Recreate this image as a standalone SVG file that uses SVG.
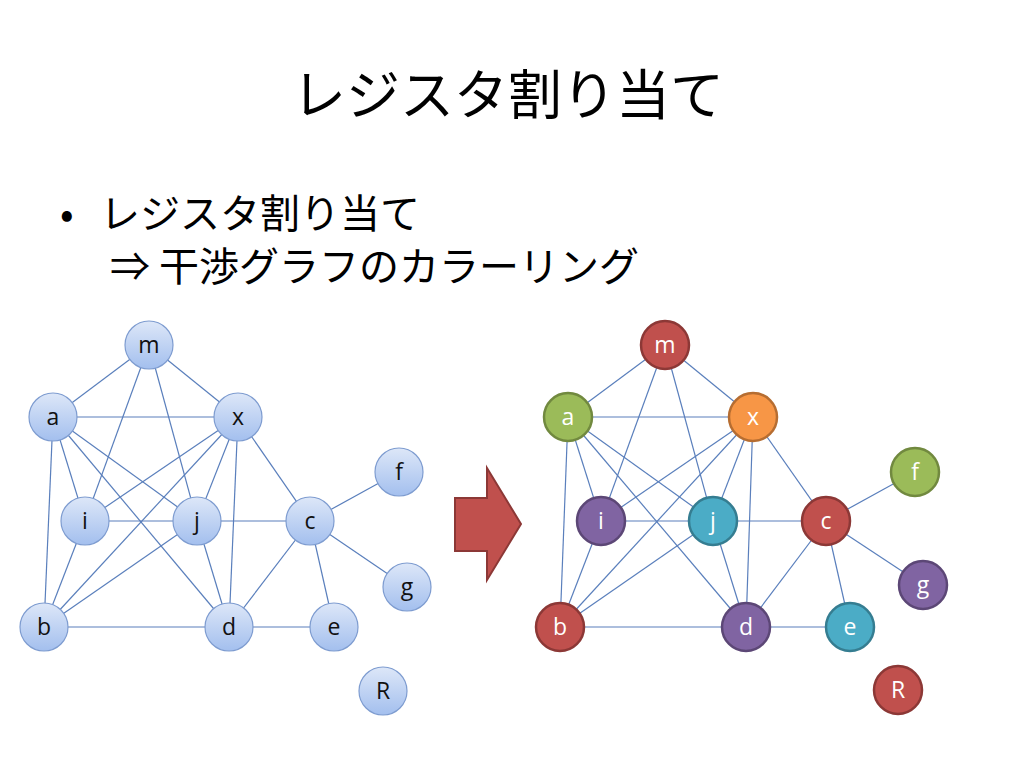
<svg xmlns="http://www.w3.org/2000/svg" width="1024" height="768" viewBox="0 0 1024 768">
<defs>
<linearGradient id="lb" x1="0" y1="0" x2="0" y2="1">
<stop offset="0" stop-color="#DDE7F8"/>
<stop offset="1" stop-color="#A3BFEE"/>
</linearGradient>
<style>
.jp{font-family:"Noto Sans CJK JP","Noto Sans",sans-serif;fill:#000}
.e{stroke:#5A7FBC;stroke-width:1.2;fill:none}
.n circle{stroke-width:1.2}
.L circle{fill:url(#lb);stroke:#7E9CD0}
.L text{fill:#111}
.R circle{stroke-width:2.5}
.R text{fill:#fff}
.lbl{font-family:"Open Sans","Liberation Sans",sans-serif;font-size:23px;text-anchor:middle}
.red circle{fill:#C0504D;stroke:#8C3836}
.grn circle{fill:#9BBB59;stroke:#71893F}
.org circle{fill:#F79646;stroke:#B66D31}
.pur circle{fill:#8064A2;stroke:#5C4776}
.tea circle{fill:#4BACC6;stroke:#357D91}
</style>
</defs>
<rect width="1024" height="768" fill="#fff"/>
<text id="title" class="jp" x="508" y="115" font-size="54" text-anchor="middle">レジスタ割り当て</text>
<text class="jp" x="60" y="228" font-size="40">•</text>
<text class="jp" x="100" y="228" font-size="40">レジスタ割り当て</text>
<text class="jp" x="110" y="281" font-size="40">⇒ 干渉グラフのカラーリング</text>

<g id="connectors-left">
<line class="e" x1="149" y1="345" x2="53" y2="417"/>
<line class="e" x1="149" y1="345" x2="238" y2="417"/>
<line class="e" x1="149" y1="345" x2="85" y2="521"/>
<line class="e" x1="149" y1="345" x2="197" y2="521"/>
<line class="e" x1="53" y1="417" x2="238" y2="417"/>
<line class="e" x1="53" y1="417" x2="85" y2="521"/>
<line class="e" x1="53" y1="417" x2="44" y2="627"/>
<line class="e" x1="53" y1="417" x2="197" y2="521"/>
<line class="e" x1="53" y1="417" x2="229" y2="627"/>
<line class="e" x1="238" y1="417" x2="85" y2="521"/>
<line class="e" x1="238" y1="417" x2="44" y2="627"/>
<line class="e" x1="238" y1="417" x2="197" y2="521"/>
<line class="e" x1="238" y1="417" x2="229" y2="627"/>
<line class="e" x1="238" y1="417" x2="310" y2="521"/>
<line class="e" x1="85" y1="521" x2="197" y2="521"/>
<line class="e" x1="85" y1="521" x2="44" y2="627"/>
<line class="e" x1="197" y1="521" x2="310" y2="521"/>
<line class="e" x1="197" y1="521" x2="44" y2="627"/>
<line class="e" x1="197" y1="521" x2="229" y2="627"/>
<line class="e" x1="310" y1="521" x2="399" y2="472"/>
<line class="e" x1="310" y1="521" x2="407" y2="587"/>
<line class="e" x1="310" y1="521" x2="334" y2="627"/>
<line class="e" x1="310" y1="521" x2="229" y2="627"/>
<line class="e" x1="44" y1="627" x2="229" y2="627"/>
<line class="e" x1="229" y1="627" x2="334" y2="627"/>
</g>
<g id="connectors-right">
<line class="e" x1="665" y1="345" x2="568" y2="417"/>
<line class="e" x1="665" y1="345" x2="753" y2="417"/>
<line class="e" x1="665" y1="345" x2="601" y2="521"/>
<line class="e" x1="665" y1="345" x2="713" y2="521"/>
<line class="e" x1="568" y1="417" x2="753" y2="417"/>
<line class="e" x1="568" y1="417" x2="601" y2="521"/>
<line class="e" x1="568" y1="417" x2="560" y2="627"/>
<line class="e" x1="568" y1="417" x2="713" y2="521"/>
<line class="e" x1="568" y1="417" x2="746" y2="627"/>
<line class="e" x1="753" y1="417" x2="601" y2="521"/>
<line class="e" x1="753" y1="417" x2="560" y2="627"/>
<line class="e" x1="753" y1="417" x2="713" y2="521"/>
<line class="e" x1="753" y1="417" x2="746" y2="627"/>
<line class="e" x1="753" y1="417" x2="826" y2="521"/>
<line class="e" x1="601" y1="521" x2="713" y2="521"/>
<line class="e" x1="601" y1="521" x2="560" y2="627"/>
<line class="e" x1="713" y1="521" x2="826" y2="521"/>
<line class="e" x1="713" y1="521" x2="560" y2="627"/>
<line class="e" x1="713" y1="521" x2="746" y2="627"/>
<line class="e" x1="826" y1="521" x2="915" y2="472"/>
<line class="e" x1="826" y1="521" x2="923" y2="585"/>
<line class="e" x1="826" y1="521" x2="850" y2="627"/>
<line class="e" x1="826" y1="521" x2="746" y2="627"/>
<line class="e" x1="560" y1="627" x2="746" y2="627"/>
<line class="e" x1="746" y1="627" x2="850" y2="627"/>
</g>

<g id="left-m" class="n L"><circle cx="149" cy="345" r="24"/><text class="lbl" x="149" y="353">m</text></g>
<g id="left-a" class="n L"><circle cx="53" cy="417" r="24"/><text class="lbl" x="53" y="425">a</text></g>
<g id="left-x" class="n L"><circle cx="238" cy="417" r="24"/><text class="lbl" x="238" y="425">x</text></g>
<g id="left-i" class="n L"><circle cx="85" cy="521" r="24"/><text class="lbl" x="85" y="529">i</text></g>
<g id="left-j" class="n L"><circle cx="197" cy="521" r="24"/><text class="lbl" x="197" y="529">j</text></g>
<g id="left-c" class="n L"><circle cx="310" cy="521" r="24"/><text class="lbl" x="310" y="529">c</text></g>
<g id="left-f" class="n L"><circle cx="399" cy="472" r="24"/><text class="lbl" x="399" y="480">f</text></g>
<g id="left-g" class="n L"><circle cx="407" cy="587" r="24"/><text class="lbl" x="407" y="595">g</text></g>
<g id="left-b" class="n L"><circle cx="44" cy="627" r="24"/><text class="lbl" x="44" y="635">b</text></g>
<g id="left-d" class="n L"><circle cx="229" cy="627" r="24"/><text class="lbl" x="229" y="635">d</text></g>
<g id="left-e" class="n L"><circle cx="334" cy="627" r="24"/><text class="lbl" x="334" y="635">e</text></g>
<g id="left-R" class="n L"><circle cx="383" cy="691" r="24"/><text class="lbl" x="383" y="699">R</text></g>

<g id="arrow"><polygon points="455,498 487,498 487,468 521,524 487,580 487,551 455,551" fill="#C0504D" stroke="#8C3836" stroke-width="2"/></g>

<g id="right-m" class="n R red"><circle cx="665" cy="345" r="24"/><text class="lbl" x="665" y="353">m</text></g>
<g id="right-a" class="n R grn"><circle cx="568" cy="417" r="24"/><text class="lbl" x="568" y="425">a</text></g>
<g id="right-x" class="n R org"><circle cx="753" cy="417" r="24"/><text class="lbl" x="753" y="425">x</text></g>
<g id="right-i" class="n R pur"><circle cx="601" cy="521" r="24"/><text class="lbl" x="601" y="529">i</text></g>
<g id="right-j" class="n R tea"><circle cx="713" cy="521" r="24"/><text class="lbl" x="713" y="529">j</text></g>
<g id="right-c" class="n R red"><circle cx="826" cy="521" r="24"/><text class="lbl" x="826" y="529">c</text></g>
<g id="right-f" class="n R grn"><circle cx="915" cy="472" r="24"/><text class="lbl" x="915" y="480">f</text></g>
<g id="right-g" class="n R pur"><circle cx="923" cy="585" r="24"/><text class="lbl" x="923" y="593">g</text></g>
<g id="right-b" class="n R red"><circle cx="560" cy="627" r="24"/><text class="lbl" x="560" y="635">b</text></g>
<g id="right-d" class="n R pur"><circle cx="746" cy="627" r="24"/><text class="lbl" x="746" y="635">d</text></g>
<g id="right-e" class="n R tea"><circle cx="850" cy="627" r="24"/><text class="lbl" x="850" y="635">e</text></g>
<g id="right-R" class="n R red"><circle cx="898" cy="690" r="24"/><text class="lbl" x="898" y="698">R</text></g>
</svg>
